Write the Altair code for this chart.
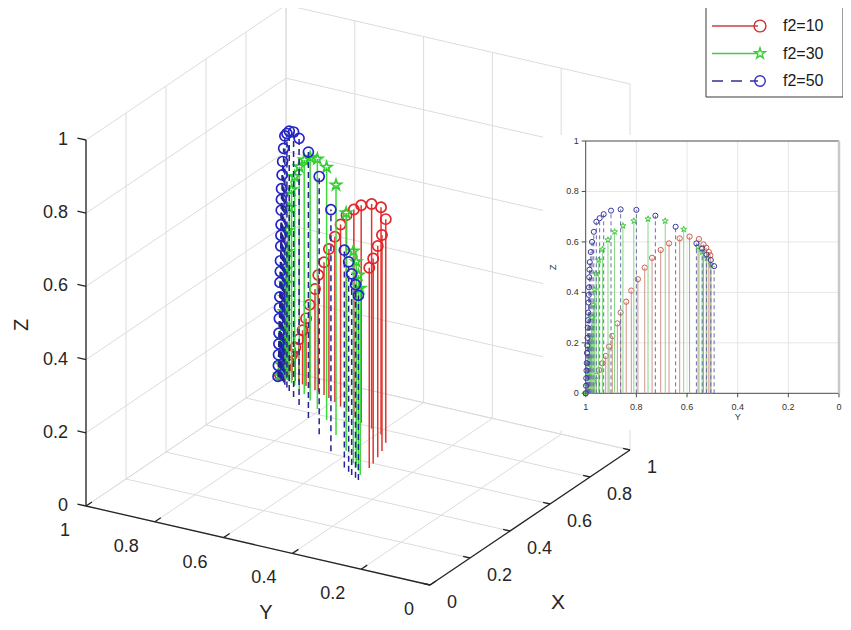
import math
import altair as alt
import pandas as pd

# ---------------- data ----------------
SERIES = ["f2=10", "f2=30", "f2=50"]

X_r = [0.97, 0.968, 0.965, 0.962, 0.958, 0.955, 0.951, 0.947, 0.942, 0.937, 0.93, 0.924, 0.915,
       0.905, 0.89, 0.872, 0.852, 0.83, 0.81, 0.79, 0.77, 0.73, 0.68, 0.64, 0.6, 0.57]
Y_r = [1.0, 0.99, 0.98, 0.97, 0.958, 0.947, 0.934, 0.921, 0.908, 0.895, 0.875, 0.862, 0.84,
       0.82, 0.794, 0.767, 0.738, 0.704, 0.671, 0.629, 0.59, 0.553, 0.535, 0.524, 0.514, 0.508]
Z_r = [0.0, 0.01, 0.027, 0.046, 0.069, 0.092, 0.119, 0.148, 0.185, 0.227, 0.277, 0.32, 0.363,
       0.407, 0.452, 0.498, 0.537, 0.568, 0.594, 0.614, 0.621, 0.611, 0.59, 0.577, 0.56, 0.547]

X_g = [0.97, 0.968, 0.966, 0.965, 0.963, 0.962, 0.96, 0.958, 0.956, 0.953, 0.95, 0.946, 0.94,
       0.93, 0.915, 0.895, 0.868, 0.83, 0.78, 0.71, 0.635, 0.575, 0.56, 0.54, 0.52]
Y_g = [1.0, 0.995, 0.99, 0.988, 0.985, 0.983, 0.98, 0.977, 0.974, 0.97, 0.965, 0.959, 0.949,
       0.934, 0.912, 0.886, 0.853, 0.81, 0.754, 0.686, 0.613, 0.557, 0.54, 0.522, 0.505]
Z_g = [0.0, 0.03, 0.07, 0.1, 0.14, 0.18, 0.22, 0.26, 0.30, 0.35, 0.41, 0.475, 0.528,
       0.571, 0.608, 0.64, 0.664, 0.683, 0.691, 0.683, 0.65, 0.58, 0.56, 0.535, 0.51]

X_b = [0.96, 0.96, 0.959, 0.959, 0.958, 0.958, 0.957, 0.957, 0.956, 0.956, 0.955, 0.955, 0.954,
       0.953, 0.952, 0.951, 0.95, 0.946, 0.94, 0.933, 0.922, 0.91, 0.894, 0.866, 0.828, 0.768,
       0.693, 0.614, 0.54, 0.522, 0.508, 0.498, 0.49]
Y_b = [1.0, 0.999, 0.998, 0.997, 0.996, 0.995, 0.994, 0.993, 0.992, 0.991, 0.99, 0.989, 0.988,
       0.987, 0.986, 0.985, 0.984, 0.98, 0.975, 0.968, 0.958, 0.945, 0.929, 0.90, 0.862, 0.80,
       0.725, 0.645, 0.563, 0.54, 0.523, 0.506, 0.493]
Z_b = [0.0, 0.03, 0.06, 0.09, 0.12, 0.16, 0.19, 0.22, 0.26, 0.29, 0.32, 0.36, 0.39,
       0.42, 0.46, 0.49, 0.52, 0.56, 0.60, 0.64, 0.68, 0.694, 0.71, 0.724, 0.729, 0.727,
       0.704, 0.66, 0.594, 0.574, 0.55, 0.528, 0.504]

TICKS = [0.0, 0.2, 0.4, 0.6, 0.8, 1.0]
TICK_LABELS = ["0", "0.2", "0.4", "0.6", "0.8", "1"]

DATA = {"f2=10": (X_r, Y_r, Z_r), "f2=30": (X_g, Y_g, Z_g), "f2=50": (X_b, Y_b, Z_b)}

# ---------------- layout / style ----------------
FONT = "Liberation Sans"
TXT = "#262626"
# orthographic view of the 3-D box (page pixels)
O = (430.0, 585.0)
EX = (200.0, -135.0)
EY = (-344.0, -79.0)
EZ = (0.0, -366.0)
# inset axes frame (page pixels)
IX_L, IX_R = 585.7, 839.0
IY_B, IY_T = 393.3, 141.0


def proj(X, Y, Z):
    return (O[0] + EX[0] * X + EY[0] * Y + EZ[0] * Z,
            O[1] + EX[1] * X + EY[1] * Y + EZ[1] * Z)


def ix(Y):  # inset horizontal axis is Y, reversed (1 at left)
    return IX_L + (1 - Y) * (IX_R - IX_L)


def iy(Z):
    return IY_B - Z * (IY_B - IY_T)


def star_path(inner=0.38):
    pts = []
    for k in range(10):
        a = math.radians(-90 + 36 * k)
        r = 1.0 if k % 2 == 0 else inner
        pts.append(f"{r * math.cos(a):.3f},{r * math.sin(a):.3f}")
    return "M" + " L".join(pts) + " Z"


STAR = star_path()

STYLE = {
    "f2=10": dict(line="#e2342e", mark="#e0262a", iline="#d4938a", imark="#c9604f",
                  shape="circle", dash=None, idash=None, size=105, isize=28,
                  lline="#c94040", lmark="#c83434", lsize=140, ldash=None),
    "f2=30": dict(line="#3cd83c", mark="#30d030", iline="#84d884", imark="#3fcc3f",
                  shape=STAR, dash=None, idash=None, size=125, isize=40,
                  lline="#44cc44", lmark="#3ccc3c", lsize=130, ldash=None),
    "f2=50": dict(line="#23238f", mark="#2424c8", iline="#6c6ca8", imark="#38389c",
                  shape="circle", dash=[6, 4], idash=[4, 3], size=100, isize=26,
                  lline="#303094", lmark="#3434c0", lsize=110, ldash=[11, 8]),
}

XS = alt.Scale(domain=[8, 843], nice=False, zero=False)
YS = alt.Scale(domain=[8, 622], reverse=True, nice=False, zero=False)


def enc_pt(chart):
    return chart.encode(x=alt.X("x:Q", scale=XS, axis=None),
                        y=alt.Y("y:Q", scale=YS, axis=None))


def enc_seg(chart):
    return chart.encode(x=alt.X("x:Q", scale=XS, axis=None),
                        y=alt.Y("y:Q", scale=YS, axis=None),
                        x2="x2:Q", y2="y2:Q")


def seg_df(segs):
    rows = []
    for a, b in segs:
        x1, y1 = proj(*a)
        x2, y2 = proj(*b)
        rows.append(dict(x=x1, y=y1, x2=x2, y2=y2))
    return pd.DataFrame(rows)


layers = []

# ---------------- 3-D box grid ----------------
grid = []
for t in TICKS:
    grid.append(((t, 0, 0), (t, 1, 0)))      # floor, constant X
    grid.append(((0, t, 0), (1, t, 0)))      # floor, constant Y
    grid.append(((t, 1, 0), (t, 1, 1)))      # back-left wall (Y=1), verticals
    grid.append(((0, 1, t), (1, 1, t)))      # back-left wall, constant Z
    grid.append(((1, t, 0), (1, t, 1)))      # back-right wall (X=1), verticals
    grid.append(((1, 0, t), (1, 1, t)))      # back-right wall, constant Z
layers.append(enc_seg(alt.Chart(seg_df(grid)).mark_rule(color="#dcdcdc", strokeWidth=1)))

axes3 = [((0, 1, 0), (0, 1, 1)), ((0, 0, 0), (0, 1, 0)), ((0, 0, 0), (1, 0, 0))]
ticks3 = []
for t in TICKS:
    ticks3.append(((0, 1, t), (0, 1.025, t)))
    ticks3.append(((0, t, 0), (0.03, t, 0)))
    ticks3.append(((t, 0, 0), (t, 0.02, 0)))
layers.append(enc_seg(alt.Chart(seg_df(axes3 + ticks3)).mark_rule(color=TXT, strokeWidth=1.3)))

# tick labels
zl = pd.DataFrame([dict(zip(("x", "y"), proj(0, 1, t)), label=l) for t, l in zip(TICKS, TICK_LABELS)])
yl = pd.DataFrame([dict(zip(("x", "y"), proj(0, t, 0)), label=l) for t, l in zip(TICKS, TICK_LABELS)])
xl = pd.DataFrame([dict(zip(("x", "y"), proj(t, 0, 0)), label=l) for t, l in zip(TICKS, TICK_LABELS)])
layers.append(enc_pt(alt.Chart(zl).mark_text(align="right", baseline="middle", dx=-18, fontSize=18,
                                              font=FONT, color=TXT)).encode(text="label:N"))
layers.append(enc_pt(alt.Chart(yl).mark_text(align="right", baseline="middle", dx=-16, dy=25, fontSize=18,
                                              font=FONT, color=TXT)).encode(text="label:N"))
layers.append(enc_pt(alt.Chart(xl).mark_text(align="left", baseline="middle", dx=17, dy=18, fontSize=18,
                                              font=FONT, color=TXT)).encode(text="label:N"))

# axis titles (for rotated text, dy runs across the text direction)
tz = pd.DataFrame([dict(zip(("x", "y"), proj(0, 1, 0.5)), label="Z")])
ty = pd.DataFrame([dict(zip(("x", "y"), proj(0, 0.5, 0)), label="Y")])
tx = pd.DataFrame([dict(zip(("x", "y"), proj(0.5, 0, 0)), label="X")])
layers.append(enc_pt(alt.Chart(tz).mark_text(align="center", baseline="middle", dx=-2, dy=-64, angle=270,
                                              fontSize=20, font=FONT, color=TXT)).encode(text="label:N"))
layers.append(enc_pt(alt.Chart(ty).mark_text(align="center", baseline="middle", dx=8, dy=67,
                                              fontSize=20, font=FONT, color=TXT)).encode(text="label:N"))
layers.append(enc_pt(alt.Chart(tx).mark_text(align="center", baseline="middle", dx=28, dy=85,
                                              fontSize=21, font=FONT, color=TXT)).encode(text="label:N"))

# ---------------- 3-D stems ----------------
for s in SERIES:
    X, Y, Z = DATA[s]
    st = STYLE[s]
    rows = []
    for a, b, c in zip(X, Y, Z):
        x1, y1 = proj(a, b, 0)
        x2, y2 = proj(a, b, c)
        rows.append(dict(x=x1, y=y1, x2=x2, y2=y2))
    df = pd.DataFrame(rows)
    kw = dict(color=st["line"], strokeWidth=1.5)
    if st["dash"]:
        kw["strokeDash"] = st["dash"]
    layers.append(enc_seg(alt.Chart(df).mark_rule(**kw)))
    pts = pd.DataFrame([dict(x=r["x2"], y=r["y2"]) for r in rows])
    layers.append(enc_pt(alt.Chart(pts).mark_point(shape=st["shape"], filled=False, size=st["size"],
                                                   stroke=st["mark"], strokeWidth=1.7, opacity=1)))

# ---------------- inset ----------------
bg = pd.DataFrame([dict(x=543, y=135, x2=843, y2=430)])
layers.append(enc_seg(alt.Chart(bg).mark_rect(color="white")))

ig = []
for t in TICKS[1:-1]:
    ig.append(dict(x=ix(t), y=iy(0), x2=ix(t), y2=iy(1)))
    ig.append(dict(x=ix(1), y=iy(t), x2=ix(0), y2=iy(t)))
layers.append(enc_seg(alt.Chart(pd.DataFrame(ig)).mark_rule(color="#e6e6e6", strokeWidth=1)))

iframe_dark = [dict(x=ix(1), y=iy(0), x2=ix(1), y2=iy(1)),
               dict(x=ix(1), y=iy(0), x2=ix(0), y2=iy(0)),
               dict(x=ix(1), y=iy(1), x2=ix(0), y2=iy(1))]
for t in TICKS:
    iframe_dark.append(dict(x=ix(1) - 4, y=iy(t), x2=ix(1), y2=iy(t)))
    iframe_dark.append(dict(x=ix(t), y=iy(0), x2=ix(t), y2=iy(0) + 4))
layers.append(enc_seg(alt.Chart(pd.DataFrame(iframe_dark)).mark_rule(color="#4a4a4a", strokeWidth=1)))
layers.append(enc_seg(alt.Chart(pd.DataFrame([dict(x=ix(0), y=iy(0), x2=ix(0), y2=iy(1))]))
                      .mark_rule(color="#c8c8c8", strokeWidth=2.5)))

izl = pd.DataFrame([dict(x=ix(1), y=iy(t), label=l) for t, l in zip(TICKS, TICK_LABELS)])
iyl = pd.DataFrame([dict(x=ix(t), y=iy(0), label=l) for t, l in zip(TICKS, TICK_LABELS)])
layers.append(enc_pt(alt.Chart(izl).mark_text(align="right", baseline="middle", dx=-7, fontSize=9,
                                               font=FONT, color="#333333")).encode(text="label:N"))
layers.append(enc_pt(alt.Chart(iyl).mark_text(align="center", baseline="middle", dy=14, fontSize=9,
                                               font=FONT, color="#333333")).encode(text="label:N"))
ity = pd.DataFrame([dict(x=ix(0.4), y=iy(0), label="Y")])
itz = pd.DataFrame([dict(x=ix(1), y=iy(0.5), label="Z")])
layers.append(enc_pt(alt.Chart(ity).mark_text(align="center", baseline="middle", dy=24, fontSize=9,
                                               font=FONT, color="#333333")).encode(text="label:N"))
layers.append(enc_pt(alt.Chart(itz).mark_text(align="center", baseline="middle", dy=-33, angle=270,
                                               fontSize=9, font=FONT, color="#333333")).encode(text="label:N"))

for s in SERIES:
    X, Y, Z = DATA[s]
    st = STYLE[s]
    df = pd.DataFrame([dict(x=ix(b), y=iy(0), x2=ix(b), y2=iy(c)) for b, c in zip(Y, Z)])
    kw = dict(color=st["iline"], strokeWidth=1)
    if st["idash"]:
        kw["strokeDash"] = st["idash"]
    layers.append(enc_seg(alt.Chart(df).mark_rule(**kw)))
    pts = pd.DataFrame([dict(x=ix(b), y=iy(c)) for b, c in zip(Y, Z)])
    layers.append(enc_pt(alt.Chart(pts).mark_point(shape=st["shape"], filled=False, size=st["isize"],
                                                   stroke=st["imark"], strokeWidth=1, opacity=1)))

# ---------------- legend ----------------
LX0, LX1, LXM, LXT = 712, 758, 760, 783
LY0, LDY = 26, 27.5
box = pd.DataFrame([dict(x=706, y=7, x2=843, y2=97)])
layers.append(enc_seg(alt.Chart(box).mark_rect(fill="white", stroke="#3a3a3a", strokeWidth=1)))
for i, s in enumerate(SERIES):
    st = STYLE[s]
    yy = LY0 + i * LDY
    kw = dict(color=st["lline"], strokeWidth=1.4)
    if st["ldash"]:
        kw["strokeDash"] = st["ldash"]
    layers.append(enc_seg(alt.Chart(pd.DataFrame([dict(x=LX0, y=yy, x2=LX1, y2=yy)])).mark_rule(**kw)))
    layers.append(enc_pt(alt.Chart(pd.DataFrame([dict(x=LXM, y=yy)])).mark_point(
        shape=st["shape"], filled=False, size=st["lsize"], stroke=st["lmark"], strokeWidth=1.4, opacity=1)))
    layers.append(enc_pt(alt.Chart(pd.DataFrame([dict(x=LXT, y=yy, label=s)])).mark_text(
        align="left", baseline="middle", fontSize=16, font=FONT, color="#1a1a1a")).encode(text="label:N"))

chart = alt.layer(*layers).properties(
    width=835, height=614, padding=0,
    autosize=alt.AutoSizeParams(type="none"),
    background="white",
).configure_view(stroke=None)

chart.save("out.html", embed_options={"renderer": "svg", "actions": False})
